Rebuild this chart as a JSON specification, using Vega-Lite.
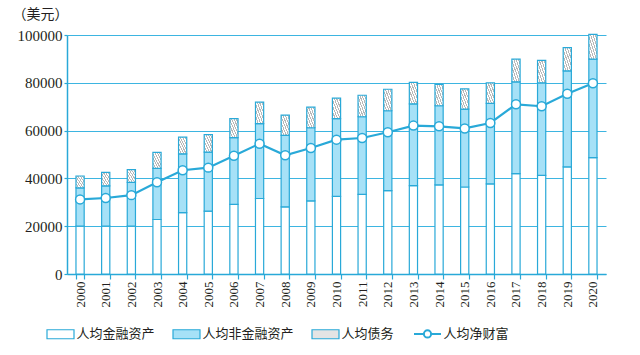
{
  "$schema": "https://vega.github.io/schema/vega-lite/v6.json",
  "autosize": {"type": "none"},
  "padding": {"left": 67, "top": 35, "right": 34, "bottom": 81},
  "width": 539,
  "height": 239,
  "background": "white",
  "datasets": {
    "bars": [
      {"year": "2000", "type": "人均金融资产", "k": 1, "value": 20000}, {"year": "2000", "type": "人均非金融资产", "k": 2, "value": 16000}, {"year": "2000", "type": "人均债务", "k": 3, "value": 5000},
      {"year": "2001", "type": "人均金融资产", "k": 1, "value": 20000}, {"year": "2001", "type": "人均非金融资产", "k": 2, "value": 16900}, {"year": "2001", "type": "人均债务", "k": 3, "value": 5600},
      {"year": "2002", "type": "人均金融资产", "k": 1, "value": 20000}, {"year": "2002", "type": "人均非金融资产", "k": 2, "value": 18300}, {"year": "2002", "type": "人均债务", "k": 3, "value": 5400},
      {"year": "2003", "type": "人均金融资产", "k": 1, "value": 22800}, {"year": "2003", "type": "人均非金融资产", "k": 2, "value": 21400}, {"year": "2003", "type": "人均债务", "k": 3, "value": 6700},
      {"year": "2004", "type": "人均金融资产", "k": 1, "value": 25700}, {"year": "2004", "type": "人均非金融资产", "k": 2, "value": 24600}, {"year": "2004", "type": "人均债务", "k": 3, "value": 7000},
      {"year": "2005", "type": "人均金融资产", "k": 1, "value": 26300}, {"year": "2005", "type": "人均非金融资产", "k": 2, "value": 24700}, {"year": "2005", "type": "人均债务", "k": 3, "value": 7300},
      {"year": "2006", "type": "人均金融资产", "k": 1, "value": 29100}, {"year": "2006", "type": "人均非金融资产", "k": 2, "value": 28000}, {"year": "2006", "type": "人均债务", "k": 3, "value": 7900},
      {"year": "2007", "type": "人均金融资产", "k": 1, "value": 31600}, {"year": "2007", "type": "人均非金融资产", "k": 2, "value": 31300}, {"year": "2007", "type": "人均债务", "k": 3, "value": 9000},
      {"year": "2008", "type": "人均金融资产", "k": 1, "value": 28100}, {"year": "2008", "type": "人均非金融资产", "k": 2, "value": 29900}, {"year": "2008", "type": "人均债务", "k": 3, "value": 8500},
      {"year": "2009", "type": "人均金融资产", "k": 1, "value": 30600}, {"year": "2009", "type": "人均非金融资产", "k": 2, "value": 30600}, {"year": "2009", "type": "人均债务", "k": 3, "value": 8600},
      {"year": "2010", "type": "人均金融资产", "k": 1, "value": 32500}, {"year": "2010", "type": "人均非金融资产", "k": 2, "value": 32500}, {"year": "2010", "type": "人均债务", "k": 3, "value": 8600},
      {"year": "2011", "type": "人均金融资产", "k": 1, "value": 33300}, {"year": "2011", "type": "人均非金融资产", "k": 2, "value": 32500}, {"year": "2011", "type": "人均债务", "k": 3, "value": 9000},
      {"year": "2012", "type": "人均金融资产", "k": 1, "value": 34900}, {"year": "2012", "type": "人均非金融资产", "k": 2, "value": 33400}, {"year": "2012", "type": "人均债务", "k": 3, "value": 9000},
      {"year": "2013", "type": "人均金融资产", "k": 1, "value": 37000}, {"year": "2013", "type": "人均非金融资产", "k": 2, "value": 34200}, {"year": "2013", "type": "人均债务", "k": 3, "value": 9000},
      {"year": "2014", "type": "人均金融资产", "k": 1, "value": 37300}, {"year": "2014", "type": "人均非金融资产", "k": 2, "value": 33100}, {"year": "2014", "type": "人均债务", "k": 3, "value": 8900},
      {"year": "2015", "type": "人均金融资产", "k": 1, "value": 36400}, {"year": "2015", "type": "人均非金融资产", "k": 2, "value": 32600}, {"year": "2015", "type": "人均债务", "k": 3, "value": 8500},
      {"year": "2016", "type": "人均金融资产", "k": 1, "value": 37700}, {"year": "2016", "type": "人均非金融资产", "k": 2, "value": 33700}, {"year": "2016", "type": "人均债务", "k": 3, "value": 8600},
      {"year": "2017", "type": "人均金融资产", "k": 1, "value": 42000}, {"year": "2017", "type": "人均非金融资产", "k": 2, "value": 38400}, {"year": "2017", "type": "人均债务", "k": 3, "value": 9500},
      {"year": "2018", "type": "人均金融资产", "k": 1, "value": 41300}, {"year": "2018", "type": "人均非金融资产", "k": 2, "value": 38700}, {"year": "2018", "type": "人均债务", "k": 3, "value": 9400},
      {"year": "2019", "type": "人均金融资产", "k": 1, "value": 44800}, {"year": "2019", "type": "人均非金融资产", "k": 2, "value": 40200}, {"year": "2019", "type": "人均债务", "k": 3, "value": 9700},
      {"year": "2020", "type": "人均金融资产", "k": 1, "value": 48700}, {"year": "2020", "type": "人均非金融资产", "k": 2, "value": 41200}, {"year": "2020", "type": "人均债务", "k": 3, "value": 10400}
    ],
    "net": [
      {"year": "2000", "net": 31200}, {"year": "2001", "net": 31800}, {"year": "2002", "net": 33000},
      {"year": "2003", "net": 38400}, {"year": "2004", "net": 43400}, {"year": "2005", "net": 44500},
      {"year": "2006", "net": 49500}, {"year": "2007", "net": 54500}, {"year": "2008", "net": 49700},
      {"year": "2009", "net": 52700}, {"year": "2010", "net": 56200}, {"year": "2011", "net": 56900},
      {"year": "2012", "net": 59300}, {"year": "2013", "net": 62100}, {"year": "2014", "net": 61800},
      {"year": "2015", "net": 60900}, {"year": "2016", "net": 63200}, {"year": "2017", "net": 71000},
      {"year": "2018", "net": 70200}, {"year": "2019", "net": 75400}, {"year": "2020", "net": 79800}
    ]
  },
  "config": {
    "view": {"stroke": null},
    "axis": {
      "domainColor": "#29a9d8", "domainWidth": 1.5, "tickColor": "#29a9d8", "tickWidth": 1.2,
      "labelColor": "#231f20", "labelFont": "Liberation Serif", "gridColor": "#3db5e1", "gridWidth": 1, "gridOpacity": 1
    }
  },
  "layer": [
    {
      "data": {"name": "bars"},
      "mark": {"type": "bar", "stroke": "#29a9d8", "strokeWidth": 1.2},
      "encoding": {
        "x": {
          "field": "year", "type": "ordinal",
          "scale": {"paddingInner": 0.68, "paddingOuter": 0.35},
          "axis": {"title": null, "labelAngle": -90, "labelFontSize": 13, "labelPadding": 2, "tickSize": 5, "tickBand": "extent", "grid": false}
        },
        "y": {
          "field": "value", "type": "quantitative", "stack": "zero",
          "scale": {"domain": [0, 100000]},
          "axis": {
            "values": [0, 20000, 40000, 60000, 80000, 100000], "format": "d",
            "labelFontSize": 15, "labelPadding": 2, "tickSize": 3, "grid": true,
            "title": "（美元）", "titleAngle": 0, "titleAlign": "left", "titleBaseline": "middle",
            "titleX": -55, "titleY": -21, "titleFont": "Noto Sans CJK SC", "titleFontSize": 14,
            "titleFontWeight": "normal", "titleColor": "#231f20"
          }
        },
        "order": {"field": "k", "type": "quantitative"},
        "fill": {
          "condition": [
            {"test": "datum.type === '人均债务'", "value": {"gradient": "linear", "x1": 0, "y1": 1, "x2": 1, "y2": 0, "stops": [
              {"offset": 0, "color": "#b8b8b8"}, {"offset": 0.064, "color": "#b8b8b8"}, {"offset": 0.064, "color": "#ffffff"}, {"offset": 0.143, "color": "#ffffff"},
              {"offset": 0.143, "color": "#b8b8b8"}, {"offset": 0.207, "color": "#b8b8b8"}, {"offset": 0.207, "color": "#ffffff"}, {"offset": 0.286, "color": "#ffffff"},
              {"offset": 0.286, "color": "#b8b8b8"}, {"offset": 0.35, "color": "#b8b8b8"}, {"offset": 0.35, "color": "#ffffff"}, {"offset": 0.429, "color": "#ffffff"},
              {"offset": 0.429, "color": "#b8b8b8"}, {"offset": 0.493, "color": "#b8b8b8"}, {"offset": 0.493, "color": "#ffffff"}, {"offset": 0.571, "color": "#ffffff"},
              {"offset": 0.571, "color": "#b8b8b8"}, {"offset": 0.636, "color": "#b8b8b8"}, {"offset": 0.636, "color": "#ffffff"}, {"offset": 0.714, "color": "#ffffff"},
              {"offset": 0.714, "color": "#b8b8b8"}, {"offset": 0.779, "color": "#b8b8b8"}, {"offset": 0.779, "color": "#ffffff"}, {"offset": 0.857, "color": "#ffffff"},
              {"offset": 0.857, "color": "#b8b8b8"}, {"offset": 0.921, "color": "#b8b8b8"}, {"offset": 0.921, "color": "#ffffff"}, {"offset": 1, "color": "#ffffff"}
            ]}},
            {"test": "datum.value === '人均债务'", "value": {"gradient": "linear", "x1": 0, "y1": 0.667, "x2": 1, "y2": 0.333, "stops": [
              {"offset": 0, "color": "#a8a8a8"}, {"offset": 0.05, "color": "#a8a8a8"}, {"offset": 0.05, "color": "#ffffff"}, {"offset": 0.111, "color": "#ffffff"},
              {"offset": 0.111, "color": "#a8a8a8"}, {"offset": 0.161, "color": "#a8a8a8"}, {"offset": 0.161, "color": "#ffffff"}, {"offset": 0.222, "color": "#ffffff"},
              {"offset": 0.222, "color": "#a8a8a8"}, {"offset": 0.272, "color": "#a8a8a8"}, {"offset": 0.272, "color": "#ffffff"}, {"offset": 0.333, "color": "#ffffff"},
              {"offset": 0.333, "color": "#a8a8a8"}, {"offset": 0.383, "color": "#a8a8a8"}, {"offset": 0.383, "color": "#ffffff"}, {"offset": 0.444, "color": "#ffffff"},
              {"offset": 0.444, "color": "#a8a8a8"}, {"offset": 0.494, "color": "#a8a8a8"}, {"offset": 0.494, "color": "#ffffff"}, {"offset": 0.556, "color": "#ffffff"},
              {"offset": 0.556, "color": "#a8a8a8"}, {"offset": 0.606, "color": "#a8a8a8"}, {"offset": 0.606, "color": "#ffffff"}, {"offset": 0.667, "color": "#ffffff"},
              {"offset": 0.667, "color": "#a8a8a8"}, {"offset": 0.717, "color": "#a8a8a8"}, {"offset": 0.717, "color": "#ffffff"}, {"offset": 0.778, "color": "#ffffff"},
              {"offset": 0.778, "color": "#a8a8a8"}, {"offset": 0.828, "color": "#a8a8a8"}, {"offset": 0.828, "color": "#ffffff"}, {"offset": 0.889, "color": "#ffffff"},
              {"offset": 0.889, "color": "#a8a8a8"}, {"offset": 0.939, "color": "#a8a8a8"}, {"offset": 0.939, "color": "#ffffff"}, {"offset": 1, "color": "#ffffff"}
            ]}}
          ],
          "field": "type", "type": "nominal",
          "scale": {"domain": ["人均金融资产", "人均非金融资产", "人均债务", "人均净财富"], "range": ["#ffffff", "#a6e1f7", "#e4e4e4", "#ffffff"]},
          "legend": {
            "title": null, "orient": "none", "legendX": -17.5, "legendY": 292, "direction": "horizontal", "padding": 0,
            "symbolSize": 324, "symbolType": "M-1,-0.5H2V0.5H-1Z", "symbolStrokeColor": "#29a9d8", "symbolStrokeWidth": 1.2,
            "labelFont": "Noto Sans CJK SC", "labelFontSize": 13, "labelColor": "#231f20", "labelOffset": 14, "columnPadding": 15,
            "encode": {
              "symbols": {
                "update": {
                  "shape": {"signal": "datum.value === '人均净财富' ? 'M-1,0H0.1M0.9,0H2M0.1,0A0.4,0.4 0 1 1 0.9,0A0.4,0.4 0 1 1 0.1,0Z' : 'M-1,-0.5H2V0.5H-1Z'"},
                  "stroke": {"value": "#29a9d8"},
                  "strokeWidth": {"signal": "datum.value === '人均净财富' ? 2 : 1.2"},
                  "opacity": {"value": 1}
                }
              }
            }
          }
        }
      }
    },
    {
      "data": {"name": "net"},
      "mark": {"type": "line", "color": "#29a9d8", "strokeWidth": 2.2,
        "point": {"filled": true, "fill": "#ffffff", "stroke": "#29a9d8", "strokeWidth": 1.5, "size": 80, "opacity": 1}},
      "encoding": {
        "x": {"field": "year", "type": "ordinal"},
        "y": {"field": "net", "type": "quantitative"}
      }
    }
  ]
}
